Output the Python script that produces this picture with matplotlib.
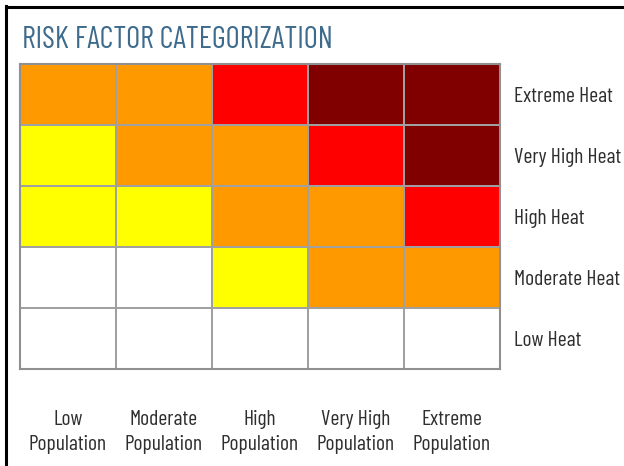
import matplotlib
matplotlib.use("Agg")
import matplotlib.pyplot as plt
from matplotlib.colors import ListedColormap
from matplotlib import font_manager
import numpy as np

title = "RISK FACTOR CATEGORIZATION"
heat_labels = ["Extreme Heat", "Very High Heat", "High Heat", "Moderate Heat", "Low Heat"]
pop_labels = ["Low\nPopulation", "Moderate\nPopulation", "High\nPopulation",
              "Very High\nPopulation", "Extreme\nPopulation"]
# risk level: 0 none(white), 1 yellow, 2 orange, 3 red, 4 dark red
risk = [
    [2, 2, 3, 4, 4],
    [1, 2, 2, 3, 4],
    [1, 1, 2, 2, 3],
    [0, 0, 1, 2, 2],
    [0, 0, 0, 0, 0],
]
risk_colors = ["#FFFFFF", "#FFFF00", "#FF9900", "#FF0000", "#800000"]

names = {f.name for f in font_manager.fontManager.ttflist}
fam = "DejaVu Sans"
for cand in ["Barlow Condensed", "Roboto Condensed", "DejaVu Sans"]:
    if cand in names:
        fam = cand
        break
plt.rcParams['font.family'] = [fam, 'DejaVu Sans']

W, H = 624, 466
fig = plt.figure(figsize=(W / 100, H / 100), dpi=100)
fig.patch.set_facecolor("white")

# outer frame lines (top and left)
fig.add_artist(plt.Line2D([6 / W, 6 / W], [0, 1 - 6 / H], color="black", lw=2.2, transform=fig.transFigure))
fig.add_artist(plt.Line2D([6 / W, 1], [1 - 7 / H, 1 - 7 / H], color="black", lw=2.2, transform=fig.transFigure))

x0, x1 = 20, 500
y0, y1 = 64, 369
ax = fig.add_axes([x0 / W, 1 - y1 / H, (x1 - x0) / W, (y1 - y0) / H])
arr = np.array(risk)
cmap = ListedColormap(risk_colors)
ax.pcolormesh(arr[::-1], cmap=cmap, vmin=-0.5, vmax=4.5, edgecolors="#A0A0A0", linewidth=1.3)
ax.set_xlim(0, 5)
ax.set_ylim(0, 5)
ax.set_xticks([])
ax.set_yticks([])
for s in ax.spines.values():
    s.set_color("#909090")
    s.set_linewidth(1.5)

for i, lab in enumerate(heat_labels):
    ax.text(5.15, 4.5 - i, lab, ha="left", va="center_baseline", fontsize=15.5, color="#2E2E2E")
for j, lab in enumerate(pop_labels):
    ax.text(j + 0.5, -1.03, lab, ha="center", va="center", fontsize=15.5, color="#2E2E2E",
            linespacing=1.4)

fig.text(22 / W, 1 - 48 / H, title, ha="left", va="baseline", fontsize=22, color="#3E6B8C")

fig.savefig("out.png", dpi=100)
